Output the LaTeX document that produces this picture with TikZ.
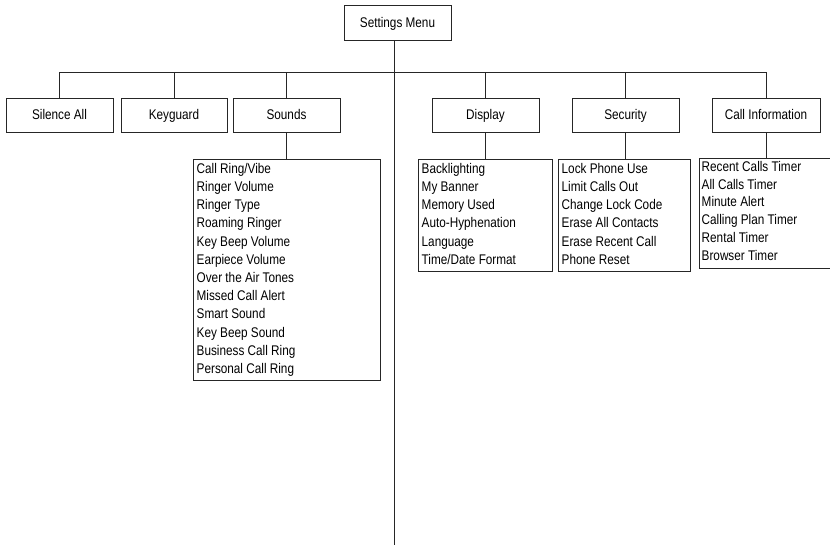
\documentclass[tikz,border=0pt]{standalone}
\usepackage{fontspec}
\setmainfont[FakeStretch=0.84]{Liberation Sans}
\begin{document}
\begin{tikzpicture}[x=1pt,y=-1pt,
  line/.style={draw=black!85,line width=0.8pt},
  menubox/.style={draw=black!85,line width=0.8pt,rectangle,inner sep=0pt,minimum height=34pt,text height=10pt,text depth=0pt,font=\fontsize{14}{16}\selectfont},
  listbox/.style={draw=black!85,line width=0.8pt,rectangle,inner sep=0pt,anchor=north west},
  listtext/.style={anchor=north west,inner sep=0pt,align=left,font=\fontsize{14}{18.2}\selectfont}]
\useasboundingbox (0,0) rectangle (830,545);
\clip (0,0) rectangle (830,545);
% top
\node[menubox,minimum width=107pt,minimum height=35pt] (set) at (397.5,22.5) {Settings Menu};
\coordinate (busL) at (60,72);
\coordinate (busR) at (766,72);
\coordinate (mainEnd) at (394,545);
% children
\node[menubox,minimum width=107pt] (sil) at (59.5,115) {Silence All};
\node[menubox,minimum width=106pt] (key) at (174,115) {Keyguard};
\node[menubox,minimum width=107pt] (snd) at (286.5,115) {Sounds};
\node[menubox,minimum width=107pt] (dsp) at (485.5,115) {Display};
\node[menubox,minimum width=107pt] (sec) at (625.5,115) {Security};
\node[menubox,minimum width=108pt] (cal) at (766,115) {Call Information};
% lists
\node[listbox,minimum width=187pt,minimum height=221pt] (sndl) at (193,159) {};
\node[listtext] (sndt) at (196.5,163) {Call Ring/Vibe\\Ringer Volume\\Ringer Type\\Roaming Ringer\\Key Beep Volume\\Earpiece Volume\\Over the Air Tones\\Missed Call Alert\\Smart Sound\\Key Beep Sound\\Business Call Ring\\Personal Call Ring};
\node[listbox,minimum width=134pt,minimum height=112pt] (dspl) at (418,159) {};
\node[listtext] (dspt) at (421.5,163) {Backlighting\\My Banner\\Memory Used\\Auto-Hyphenation\\Language\\Time/Date Format};
\node[listbox,minimum width=132pt,minimum height=112pt] (secl) at (558,159) {};
\node[listtext] (sect) at (561.5,163) {Lock Phone Use\\Limit Calls Out\\Change Lock Code\\Erase All Contacts\\Erase Recent Call\\Phone Reset};
\node[listbox,minimum width=140pt,minimum height=110pt] (call) at (699,158) {};
\node[listtext,font=\fontsize{14}{17.8}\selectfont] (calt) at (701.5,161) {Recent Calls Timer\\All Calls Timer\\Minute Alert\\Calling Plan Timer\\Rental Timer\\Browser Timer};
% connectors
\draw[line] (set.south -| mainEnd) -- (mainEnd);
\draw[line] (busL) -- (busR);
\draw[line] (sil.north) -- (sil.north |- busL);
\draw[line] (key.north) -- (key.north |- busL);
\draw[line] (snd.north) -- (snd.north |- busL);
\draw[line] (dsp.north) -- (dsp.north |- busL);
\draw[line] (sec.north) -- (sec.north |- busL);
\draw[line] (cal.north) -- (cal.north |- busL);
\draw[line] (snd.south) -- (snd.south |- sndl.north);
\draw[line] (dsp.south) -- (dsp.south |- dspl.north);
\draw[line] (sec.south) -- (sec.south |- secl.north);
\draw[line] (cal.south) -- (cal.south |- call.north);
\end{tikzpicture}
\end{document}
